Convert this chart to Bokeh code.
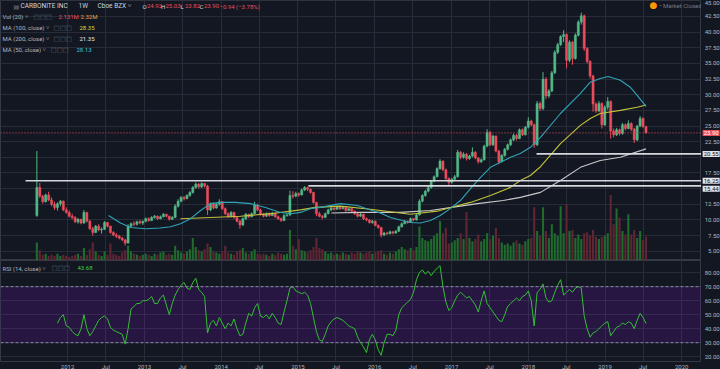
import pandas as pd
from bokeh.plotting import figure
from bokeh.layouts import column, row
from bokeh.models import (ColumnDataSource, Range1d, FixedTicker, Span, Label,
                          BoxAnnotation)
from bokeh.core.properties import value
from bokeh.embed import file_html
from bokeh.resources import INLINE

# ---------------- data ----------------
first_bar = "2011-08-08"          # bars every two weeks
opens = [10.7, 15.2, 13.8, 12.9, 14.0, 13.2, 12.5, 12.0, 12.6, 13.0,
         11.6, 11.2, 10.6, 10.4, 9.7, 10.1, 9.5, 11.2, 9.8, 8.6,
         8.0, 9.0, 8.4, 8.5, 9.6, 9.0, 8.0, 7.6, 7.4, 7.1,
         6.8, 6.3, 9.0, 9.4, 9.3, 9.7, 9.5, 9.8, 10.2, 9.9,
         10.4, 10.6, 10.2, 10.5, 10.9, 10.6, 10.1, 10.4, 12.2, 13.0,
         13.6, 13.4, 13.9, 14.4, 15.2, 15.7, 15.3, 15.8, 15.4, 11.6,
         12.6, 11.9, 12.5, 12.9, 11.8, 11.0, 10.5, 11.2, 10.4, 9.8,
         9.2, 10.2, 10.9, 10.5, 11.0, 12.4, 11.6, 10.9, 10.6, 11.0,
         10.7, 11.1, 10.5, 10.2, 9.9, 10.7, 10.8, 13.9, 13.8, 14.2,
         14.0, 14.8, 15.2, 14.9, 14.4, 12.8, 11.0, 10.6, 10.4, 11.0,
         11.6, 11.9, 11.7, 12.1, 11.8, 12.0, 11.5, 11.8, 11.4, 11.0,
         10.6, 10.9, 10.2, 10.0, 9.6, 9.8, 9.1, 8.8, 7.6, 7.9,
         7.8, 8.1, 7.9, 8.2, 8.9, 9.4, 9.8, 9.6, 10.2, 10.0,
         10.8, 13.0, 13.9, 14.6, 15.2, 16.2, 16.9, 18.2, 19.4, 18.0,
         16.6, 16.0, 16.5, 16.9, 20.8, 20.0, 20.5, 19.8, 20.2, 20.8,
         19.9, 19.3, 19.6, 21.8, 24.0, 22.0, 23.4, 21.0, 19.3, 20.3,
         21.3, 22.0, 22.8, 23.5, 23.0, 24.4, 23.6, 24.8, 25.8, 25.2,
         22.0, 28.6, 27.8, 32.5, 29.8, 30.6, 33.5, 36.8, 38.0, 39.3,
         39.6, 35.5, 38.4, 35.8, 39.5, 41.6, 42.6, 37.4, 35.3, 33.0,
         28.5, 27.4, 28.6, 25.2, 28.0, 28.9, 24.2, 23.6, 24.4, 23.8,
         25.2, 24.6, 25.4, 24.5, 22.8, 25.0, 26.2, 24.92]
highs = [21.0, 15.9, 14.0, 14.2, 14.5, 13.6, 12.9, 12.8, 13.2, 13.1,
         12.0, 11.5, 11.0, 10.6, 10.3, 10.2, 11.6, 11.3, 10.0, 8.9,
         9.2, 9.3, 8.8, 9.8, 9.7, 9.1, 8.2, 7.9, 7.6, 7.3,
         7.0, 9.3, 9.6, 9.8, 9.9, 10.0, 9.9, 10.4, 10.4, 10.6,
         10.8, 10.7, 10.7, 11.1, 11.0, 10.7, 10.6, 12.5, 13.3, 13.8,
         13.8, 14.1, 14.6, 15.4, 16.0, 15.9, 16.0, 15.9, 15.6, 12.8,
         12.8, 12.7, 13.3, 13.0, 12.0, 11.2, 11.4, 11.3, 10.6, 10.0,
         10.4, 11.1, 11.0, 11.2, 12.9, 12.6, 11.8, 11.1, 11.2, 11.2,
         11.3, 11.2, 10.7, 10.4, 10.9, 11.0, 14.7, 14.6, 14.5, 14.4,
         15.0, 15.4, 15.3, 15.0, 14.5, 12.9, 11.3, 10.8, 11.2, 11.8,
         12.1, 12.0, 12.3, 12.2, 12.2, 12.1, 12.0, 11.9, 11.5, 11.1,
         11.1, 11.0, 10.4, 10.1, 10.0, 9.9, 9.3, 8.9, 8.1, 8.1,
         8.3, 8.2, 8.4, 9.1, 9.6, 10.0, 9.9, 10.4, 10.3, 11.0,
         13.3, 14.1, 14.8, 15.4, 16.4, 17.1, 18.4, 19.7, 19.5, 18.2,
         16.8, 16.7, 17.2, 21.2, 21.0, 20.8, 20.7, 20.4, 21.6, 21.0,
         20.0, 19.8, 22.0, 24.5, 24.2, 23.6, 23.5, 21.2, 20.5, 21.5,
         22.2, 23.0, 23.8, 23.7, 24.6, 24.6, 25.0, 26.4, 26.0, 25.4,
         29.0, 28.9, 33.6, 32.8, 30.9, 33.8, 37.1, 38.3, 39.5, 40.3,
         39.8, 38.7, 38.6, 39.8, 41.9, 43.1, 42.8, 37.6, 35.5, 33.2,
         28.8, 29.0, 28.8, 28.3, 29.6, 29.1, 24.6, 24.7, 24.6, 25.5,
         25.4, 25.9, 25.6, 24.7, 25.2, 26.6, 26.4, 25.03]
lows = [10.5, 13.5, 12.6, 12.8, 13.0, 12.2, 11.6, 11.5, 12.2, 11.4,
        11.0, 10.4, 10.1, 9.5, 9.4, 9.3, 9.4, 9.6, 8.4, 7.5,
        7.9, 8.2, 7.8, 8.4, 8.8, 7.8, 7.4, 7.1, 6.9, 6.6,
        5.9, 6.2, 8.8, 9.0, 9.1, 9.3, 9.2, 9.6, 9.7, 9.8,
        10.2, 10.0, 10.1, 10.4, 10.4, 9.9, 10.0, 10.3, 12.0, 12.8,
        13.1, 13.3, 13.7, 14.2, 15.0, 15.0, 15.1, 15.2, 10.8, 11.4,
        11.7, 11.8, 12.3, 11.6, 10.8, 10.3, 10.4, 10.2, 9.6, 8.6,
        9.0, 10.0, 10.3, 10.4, 10.9, 11.4, 10.7, 10.4, 10.5, 10.5,
        10.6, 10.3, 10.0, 9.7, 9.8, 10.5, 10.6, 13.4, 13.6, 13.7,
        13.9, 14.6, 14.6, 14.2, 12.6, 10.6, 10.4, 10.1, 10.3, 10.9,
        11.4, 11.5, 11.6, 11.6, 11.7, 11.3, 11.4, 11.2, 10.8, 10.4,
        10.5, 10.0, 9.8, 9.4, 9.4, 9.0, 8.6, 7.2, 7.4, 7.6,
        7.7, 7.7, 7.8, 8.1, 8.8, 9.3, 9.4, 9.5, 9.8, 9.9,
        10.7, 12.8, 13.7, 14.4, 15.0, 16.0, 16.8, 18.0, 17.8, 16.4,
        15.6, 15.8, 16.3, 16.8, 19.7, 19.8, 19.5, 19.6, 20.0, 19.7,
        19.0, 19.1, 19.5, 21.6, 21.8, 21.8, 20.8, 18.9, 19.2, 20.1,
        21.1, 21.8, 22.6, 22.7, 22.9, 23.4, 23.5, 24.6, 25.0, 21.5,
        21.8, 27.4, 27.5, 29.3, 29.5, 30.4, 33.3, 36.5, 37.8, 38.4,
        34.2, 35.2, 34.8, 35.6, 39.3, 41.2, 37.0, 35.0, 32.6, 27.3,
        27.1, 27.2, 24.6, 25.0, 27.6, 23.0, 23.2, 23.4, 23.5, 23.6,
        24.3, 24.5, 24.2, 22.3, 22.6, 24.8, 24.7, 23.82]
closes = [15.2, 13.8, 12.9, 14.0, 13.2, 12.5, 12.0, 12.6, 13.0, 11.6,
          11.2, 10.6, 10.4, 9.7, 10.1, 9.5, 11.2, 9.8, 8.6, 8.0,
          9.0, 8.4, 8.5, 9.6, 9.0, 8.0, 7.6, 7.4, 7.1, 6.8,
          6.3, 9.0, 9.4, 9.3, 9.7, 9.5, 9.8, 10.2, 9.9, 10.4,
          10.6, 10.2, 10.5, 10.9, 10.6, 10.1, 10.4, 12.2, 13.0, 13.6,
          13.4, 13.9, 14.4, 15.2, 15.7, 15.3, 15.8, 15.4, 11.6, 12.6,
          11.9, 12.5, 12.9, 11.8, 11.0, 10.5, 11.2, 10.4, 9.8, 9.2,
          10.2, 10.9, 10.5, 11.0, 12.4, 11.6, 10.9, 10.6, 11.0, 10.7,
          11.1, 10.5, 10.2, 9.9, 10.7, 10.8, 13.9, 13.8, 14.2, 14.0,
          14.8, 15.2, 14.9, 14.4, 12.8, 11.0, 10.6, 10.4, 11.0, 11.6,
          11.9, 11.7, 12.1, 11.8, 12.0, 11.5, 11.8, 11.4, 11.0, 10.6,
          10.9, 10.2, 10.0, 9.6, 9.8, 9.1, 8.8, 7.6, 7.9, 7.8,
          8.1, 7.9, 8.2, 8.9, 9.4, 9.8, 9.6, 10.2, 10.0, 10.8,
          13.0, 13.9, 14.6, 15.2, 16.2, 16.9, 18.2, 19.4, 18.0, 16.6,
          16.0, 16.5, 16.9, 20.8, 20.0, 20.5, 19.8, 20.2, 20.8, 19.9,
          19.3, 19.6, 21.8, 24.0, 22.0, 23.4, 21.0, 19.3, 20.3, 21.3,
          22.0, 22.8, 23.5, 23.0, 24.4, 23.6, 24.8, 25.8, 25.2, 22.0,
          28.6, 27.8, 32.5, 29.8, 30.6, 33.5, 36.8, 38.0, 39.3, 39.6,
          35.5, 38.4, 35.8, 39.5, 41.6, 42.6, 37.4, 35.3, 33.0, 28.5,
          27.4, 28.6, 25.2, 28.0, 28.9, 24.2, 23.6, 24.4, 23.8, 25.2,
          24.6, 25.4, 24.5, 22.8, 25.0, 26.2, 24.92, 23.90]
volumes_m = [1.6, 0.9, 0.5, 0.6, 0.4, 0.5, 0.4, 0.6, 0.4, 0.5,
             0.4, 0.3, 0.4, 0.5, 0.6, 0.4, 1.1, 0.5, 1.0, 1.6,
             0.8, 0.5, 0.4, 0.8, 0.5, 1.5, 0.6, 0.5, 0.4, 0.7,
             0.9, 1.3, 0.8, 0.6, 0.5, 0.4, 0.5, 0.6, 0.5, 0.4,
             0.6, 0.5, 0.7, 0.8, 0.5, 0.6, 0.5, 1.3, 0.9, 0.7,
             0.6, 0.8, 1.0, 2.0, 1.2, 0.9, 0.8, 1.0, 1.5, 1.2,
             0.8, 0.7, 0.6, 0.8, 1.3, 0.7, 0.6, 0.5, 0.8, 0.9,
             1.1, 0.7, 0.6, 0.8, 1.0, 0.6, 0.5, 0.6, 0.5, 0.4,
             0.6, 0.5, 0.7, 0.6, 0.5, 0.6, 2.7, 1.3, 1.0, 1.9,
             0.9, 0.8, 0.7, 0.9, 1.2, 2.0, 1.1, 1.0, 0.8, 0.6,
             0.7, 0.5, 0.6, 0.5, 0.7, 0.6, 0.5, 0.7, 0.6, 0.8,
             0.7, 0.6, 0.7, 0.8, 0.6, 0.7, 0.8, 0.9, 0.6, 0.5,
             0.7, 0.6, 0.8, 1.0, 1.2, 1.0, 0.9, 1.1, 0.9, 1.2,
             3.0, 2.0, 1.8, 1.7, 1.9, 2.2, 2.4, 3.5, 2.4, 2.9,
             1.5, 1.6, 1.8, 2.0, 2.4, 1.9, 4.3, 2.0, 1.7, 1.9,
             2.3, 1.7, 1.9, 2.4, 1.9, 2.2, 2.9, 2.0, 1.6, 1.4,
             1.5, 1.3, 1.6, 1.8, 1.5, 1.4, 1.7, 1.9, 2.0, 4.7,
             2.6, 2.2, 4.7, 2.6, 2.0, 3.2, 2.4, 2.2, 4.8, 2.4,
             5.0, 2.6, 2.7, 2.0, 2.3, 1.9, 2.4, 2.5, 2.2, 2.7,
             2.1, 1.9, 2.1, 2.2, 2.4, 5.8, 3.2, 4.6, 3.8, 2.6,
             2.3, 4.1, 2.3, 2.7, 2.0, 2.6, 1.8, 2.131]
vol_ma20 = 2.32
rsi_vals = [44, 48, 50, 42, 41, 38, 36, 35, 40, 50,
            40, 35, 38, 42, 46, 48, 49, 47, 41, 39,
            38, 37, 36, 29, 40, 54, 56, 58, 58, 60,
            60, 61, 63, 58, 58, 62, 64, 57, 50, 58,
            64, 68, 71, 73, 69, 68, 73, 76, 68, 66,
            63, 37, 44, 46, 42, 48, 44, 40, 44, 42,
            47, 40, 35, 36, 44, 51, 49, 55, 58, 49,
            48, 50, 47, 51, 48, 44, 43, 52, 60, 69,
            70, 67, 66, 65, 66, 64, 58, 48, 38, 32,
            31, 36, 42, 45, 47, 48, 47, 46, 44, 42,
            41, 40, 34, 30, 27, 23, 32, 36, 32, 25,
            21, 30, 36, 36, 35, 39, 50, 55, 57, 59,
            61, 66, 75, 80, 82, 79, 81, 78, 81, 83,
            85, 70, 59, 53, 55, 60, 64, 66, 64, 62,
            63, 60, 57, 52, 60, 67, 58, 55, 52, 49,
            46, 45, 50, 56, 58, 60, 62, 60, 63, 64,
            67, 60, 42, 66, 68, 72, 62, 59, 60, 66,
            71, 75, 64, 66, 68, 66, 69, 70, 69, 49,
            40, 34, 37, 38, 40, 42, 44, 45, 35, 38,
            41, 42, 44, 43, 45, 44, 40, 46, 51, 48,
            43.68]

ma50_dates = ["2012-07-14", "2012-09-09", "2012-10-27", "2013-01-06", "2013-03-17", "2013-05-05",
              "2013-06-21", "2013-08-08", "2013-09-25", "2013-11-11", "2013-12-29", "2014-03-10",
              "2014-05-20", "2014-07-31", "2014-10-10", "2014-11-27", "2015-01-13", "2015-03-01",
              "2015-04-18", "2015-07-22", "2015-10-11", "2015-12-12", "2016-01-28", "2016-03-16",
              "2016-06-18", "2016-08-05", "2016-09-22", "2016-11-08", "2016-12-26", "2017-02-12",
              "2017-04-01", "2017-05-19", "2017-07-05", "2017-08-21", "2017-10-08", "2017-11-24",
              "2018-01-11", "2018-02-28", "2018-06-03", "2018-09-06", "2018-10-23", "2018-12-09",
              "2019-01-16", "2019-03-15", "2019-05-01", "2019-06-03", "2019-07-15"]
ma50_vals = [10.7, 9.5, 8.8, 8.6, 8.7, 8.9, 9.4, 10.2, 11.5, 12.6, 12.8, 12.8,
             12.6, 12.0, 11.2, 11.0, 11.2, 11.8, 12.0, 12.6, 12.3, 11.6, 11.1, 10.4,
             9.6, 9.5, 9.9, 10.7, 11.8, 13.1, 15.0, 16.8, 18.4, 19.2, 20.0, 20.6,
             21.6, 23.2, 27.0, 30.2, 32.0, 32.6, 32.9, 32.3, 31.2, 29.9, 28.13]
ma100_dates = ["2013-06-21", "2013-11-11", "2014-04-03", "2014-08-23", "2015-01-13", "2015-03-25",
               "2015-07-22", "2015-12-12", "2016-06-18", "2016-10-25", "2016-12-26", "2017-04-01",
               "2017-07-05", "2017-10-08", "2017-11-24", "2018-01-11", "2018-02-28", "2018-06-03",
               "2018-09-06", "2018-10-23", "2018-12-09", "2019-03-15", "2019-06-03", "2019-07-15"]
ma100_vals = [10.2, 10.4, 10.6, 11.0, 11.6, 12.0, 12.2, 11.7, 10.9, 11.4, 12.0, 12.8,
              13.9, 15.2, 16.3, 17.1, 18.5, 22.2, 25.1, 26.2, 27.0, 27.5, 28.0, 28.35]
ma200_dates = ["2015-06-09", "2015-10-25", "2016-05-02", "2016-09-22", "2017-02-12", "2017-05-04",
               "2017-09-04", "2017-11-24", "2018-02-28", "2018-06-03", "2018-09-06", "2018-12-09",
               "2019-03-15", "2019-07-15"]
ma200_vals = [11.1, 11.2, 11.2, 11.5, 12.2, 12.6, 13.1, 13.6, 14.4, 16.3, 18.4, 19.5, 20.0, 21.35]

level_prices = [20.55, 16.25, 15.44]
level_starts = ["2018-02-09", "2011-06-15", "2015-02-20"]

price_ticks = [5.0, 7.5, 10.0, 12.5, 17.5, 22.5, 25.0, 27.5, 30.0, 32.5, 35.0, 37.5, 40.0, 42.5, 45.0]
price_grid = [5.0, 7.5, 10.0, 12.5, 15.0, 17.5, 20.0, 22.5, 25.0, 27.5, 30.0, 32.5, 35.0, 37.5, 40.0, 42.5, 45.0]
rsi_ticks = [20, 30, 40, 50, 60, 70, 80]
year_labels = ["2012", "2013", "2014", "2015", "2016", "2017", "2018", "2019", "2020"]
mid_label = "Jul"

# ---------------- styling ----------------
BG = "#131722"
GRID = "#282c38"
UP = "#53b987"
DOWN = "#eb4d5c"
VUP = "#1f6a2c"
VDOWN = "#5f2532"
TXT = "#b2b5be"
FONT = "Roboto"
FW = 701      # chart frame width
AW = 19       # price-scale column width
BADGE_H = 8   # badge height in px (for de-overlapping)


def ms(d):
    return int(pd.Timestamp(d).value // 10**6)


dates = pd.date_range(first_bar, periods=len(closes), freq="14D")
xs = [ms(t) for t in dates]
bar_w = 14 * 86400000 * 0.72
x_start, x_end = ms("2011-02-16"), ms("2020-04-04")

cols = [UP if c >= o else DOWN for o, c in zip(opens, closes)]
vcols = [VUP if c >= o else VDOWN for o, c in zip(opens, closes)]
src = ColumnDataSource(dict(
    x=xs, o=opens, h=highs, l=lows, c=closes,
    top=[max(o, c) for o, c in zip(opens, closes)],
    bot=[min(o, c) for o, c in zip(opens, closes)],
    col=cols, vol=volumes_m, vcol=vcols))

xr = Range1d(x_start, x_end)
yr_price = Range1d(3.52, 45.05)
yr_rsi = Range1d(16.6, 88.7)

tick_ms, overrides = [], {}
for yl in year_labels:
    for m, lbl in ((1, yl), (7, mid_label)):
        t = ms(f"{yl}-{m:02d}-01")
        if t <= x_end:
            tick_ms.append(t)
            overrides[t] = lbl


def base_fig(fw, fh, x_range, y_range, x_axis_loc=None):
    return figure(frame_width=fw, frame_height=fh, x_range=x_range, y_range=y_range,
                  x_axis_location=x_axis_loc, y_axis_location=None, output_backend="svg",
                  toolbar_location=None, min_border=0, background_fill_color=BG,
                  border_fill_color=BG, outline_line_color="#363a45")


def scale_column(fh, y_range, ticks, badges):
    """Right-hand price scale: tick texts placed through the shared y scale."""
    f = figure(frame_width=AW, frame_height=fh, x_range=Range1d(0, AW), y_range=y_range,
               x_axis_location=None, y_axis_location=None, output_backend="svg",
               toolbar_location=None, min_border=0, background_fill_color=BG,
               border_fill_color=BG, outline_line_color=None)
    f.grid.visible = False
    px_per_unit = fh / (y_range.end - y_range.start)
    inner = [t for t in ticks if (y_range.end - t) * px_per_unit > 4]
    edge = [t for t in ticks if (y_range.end - t) * px_per_unit <= 4]
    for group, base in ((inner, "middle"), (edge, "top")):
        if group:
            f.text(x=[AW - 0.8] * len(group), y=group, text=[f"{t:.2f}" for t in group],
                   text_align="right", text_baseline=base, text_color=TXT,
                   text_font_size="6px", text_font=value(FONT))
    prev_px = None
    for val, bg, fg in sorted(badges, key=lambda b: -b[0]):
        px = (y_range.end - val) * px_per_unit
        shift = 0
        if prev_px is not None and px - prev_px < BADGE_H:
            shift = BADGE_H - (px - prev_px)
        prev_px = px + shift
        f.add_layout(Label(x=AW - 0.8, y=val, y_offset=-shift, text=f"{val:.2f}",
                           text_align="right", text_baseline="middle", text_color=fg,
                           text_font_size="6px", text_font=FONT,
                           background_fill_color=bg, padding=1))
    return f


# ---------------- main price pane ----------------
p = base_fig(FW, 260, xr, yr_price)
p.extra_y_ranges = {"vol": Range1d(0, 23)}
p.xgrid.ticker = FixedTicker(ticks=tick_ms)
p.ygrid.ticker = FixedTicker(ticks=price_grid)
p.grid.grid_line_color = GRID

p.vbar(x="x", width=bar_w, top="vol", bottom=0, y_range_name="vol",
       fill_color="vcol", line_color=None, source=src)
p.segment(x0="x", y0="h", x1="x", y1="l", line_color="col", line_width=1, source=src)
p.vbar(x="x", width=bar_w, top="top", bottom="bot", fill_color="col",
       line_color="col", line_width=0.5, source=src)

p.line([ms(d) for d in ma200_dates], ma200_vals, line_color="#c9c9c9", line_width=1.1)
p.line([ms(d) for d in ma100_dates], ma100_vals, line_color="#c2c23a", line_width=1.1)
p.line([ms(d) for d in ma50_dates], ma50_vals, line_color="#2ea5b8", line_width=1.1)

p.ray(x=[ms(d) for d in level_starts], y=level_prices, length=0, angle=0,
      line_color="#d6d8de", line_width=1.6)
p.add_layout(Span(location=closes[-1], dimension="width", line_color=DOWN,
                  line_dash="1 2", line_width=1))


def lab(fig, fh, x, ytop, text, color, size="6px", font=FONT):
    fig.add_layout(Label(x=x, y=fh - ytop, x_units="screen", y_units="screen", text=text,
                         text_color=color, text_font_size=size, text_font=font,
                         text_baseline="middle", text_align="left"))


FH = 260
lab(p, FH, 13, 5.5, "▤", "#787b86", "6px", "DejaVu Sans")
lab(p, FH, 20, 5.5, "CARBONITE INC", "#d1d4dc", "6.5px")
lab(p, FH, 78, 5.5, "1W", "#d1d4dc", "6.5px")
lab(p, FH, 97, 5.5, "Cboe BZX ˅", "#d1d4dc", "6.5px")
ohlc = [("O", opens[-1]), ("H", highs[-1]), ("L", lows[-1]), ("C", closes[-1])]
ox = [142, 160.5, 180, 199]
for (k, v), x0 in zip(ohlc, ox):
    lab(p, FH, x0, 5.5, k, "#d1d4dc")
    lab(p, FH, x0 + 4.5, 5.5, f"{v:.2f}", DOWN)
lab(p, FH, 219, 5.5, "−0.94 (−3.78%)", DOWN)

rows = [(16, "Vol (20) ˅", 33), (27, "MA (100, close) ˅", 53),
        (38, "MA (200, close) ˅", 53), (49, "MA (50, close) ˅", 50)]
for yt, t, ix in rows:
    lab(p, FH, 2, yt, t, TXT)
    lab(p, FH, ix, yt, "□□□", "#5d606b", "6.5px", "DejaVu Sans")
lab(p, FH, 58, 16, f"{volumes_m[-1]:.3f}M", DOWN)
lab(p, FH, 80, 16, f"{vol_ma20:.2f}M", "#f0a04b")
lab(p, FH, 79, 27, f"{ma100_vals[-1]:.2f}", "#d8d83f")
lab(p, FH, 79, 38, f"{ma200_vals[-1]:.2f}", "#e6e6e6")
lab(p, FH, 76, 49, f"{ma50_vals[-1]:.2f}", "#3cc4d6")
lab(p, FH, 649, 4.5, "●", "#ff9800", "9px", "DejaVu Sans")
lab(p, FH, 659, 4.5, "• Market Closed", "#787b86")

pa = scale_column(260, yr_price, price_ticks,
                  [(closes[-1], DOWN, "#ffffff")] +
                  [(lv, "#e0e3eb", "#131722") for lv in level_prices])

# ---------------- RSI pane ----------------
p2 = base_fig(FW, 101, xr, yr_rsi, x_axis_loc="below")
p2.xgrid.ticker = FixedTicker(ticks=tick_ms)
p2.ygrid.ticker = FixedTicker(ticks=rsi_ticks)
p2.grid.grid_line_color = GRID
ax = p2.xaxis[0]
ax.ticker = FixedTicker(ticks=tick_ms)
ax.major_label_overrides = overrides
ax.axis_line_color = None
ax.major_tick_line_color = None
ax.minor_tick_line_color = None
ax.major_tick_out = 0
ax.major_tick_in = 0
ax.minor_tick_out = 0
ax.minor_tick_in = 0
ax.major_label_text_color = TXT
ax.major_label_text_font_size = "6px"
ax.major_label_text_font = FONT
ax.major_label_standoff = 1

p2.add_layout(BoxAnnotation(bottom=30, top=70, fill_color="#9915ff", fill_alpha=0.14,
                            line_alpha=0, level="underlay"))
for lvl in (30, 70):
    p2.add_layout(Span(location=lvl, dimension="width", line_color="#8d8aa8",
                       line_dash="3 2", line_width=1))
rsi_x = xs[len(xs) - len(rsi_vals):]
p2.line(rsi_x, rsi_vals, line_color="#33c033", line_width=1)

FH2 = 101
lab(p2, FH2, 2, 7.5, "RSI (14, close) ˅", TXT)
lab(p2, FH2, 51, 7.5, "□□□", "#5d606b", "6.5px", "DejaVu Sans")
lab(p2, FH2, 77, 7.5, f"{rsi_vals[-1]:.2f}", "#3fcf3f")

pa2 = scale_column(101, yr_rsi, rsi_ticks, [])

layout = column(row(p, pa, spacing=0), row(p2, pa2, spacing=0), spacing=0)
tmpl = ("{% block postamble %}<style>html,body{margin:0 !important;padding:0;"
        "background:#131722;overflow:hidden;}</style>{% endblock %}")
html = file_html(layout, INLINE, title="CARB", template=tmpl)
open("out.html", "w").write(html)
